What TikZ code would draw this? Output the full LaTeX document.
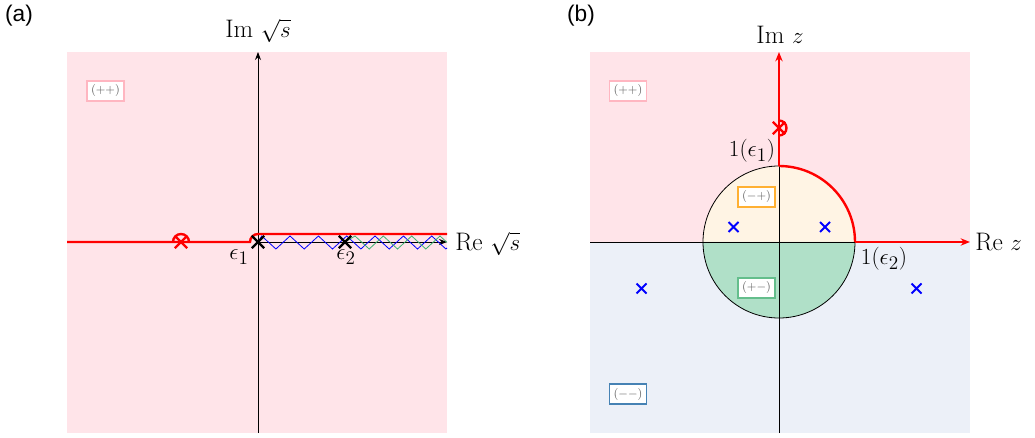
\documentclass[tikz,border=0pt]{standalone}
\usepackage{fontspec}
\newfontfamily\labelsans{Liberation Sans}
\usetikzlibrary{arrows.meta,shapes.misc}
\definecolor{bgpink}{RGB}{255,228,233}
\definecolor{bgblue}{RGB}{236,240,248}
\definecolor{bgyellow}{RGB}{255,244,228}
\definecolor{bggreen}{RGB}{176,224,200}
\definecolor{tagpink}{RGB}{255,182,193}
\definecolor{tagorange}{RGB}{255,176,50}
\definecolor{taggreen}{RGB}{100,190,140}
\definecolor{tagblue}{RGB}{70,130,180}
\definecolor{zzgreen}{RGB}{60,179,113}
\definecolor{tagtext}{RGB}{95,95,95}
\tikzset{
  axis/.style={line width=0.6pt,-{Stealth[length=6pt,width=4.5pt]}},
  redpath/.style={red,line width=1.8pt},
  biglabel/.style={font=\fontsize{19}{22}\selectfont,inner sep=0pt},
  panel/.style={font=\labelsans\fontsize{17}{20}\selectfont,inner sep=0pt},
  tag/.style={draw,fill=white,line width=1pt,font=\fontsize{9}{10}\selectfont,text=tagtext,inner sep=3pt},
  blackx/.style={cross out,draw=black,line width=1.7pt,minimum size=7.5pt,inner sep=0pt},
  redx/.style={cross out,draw=red,line width=1.7pt,minimum size=7.5pt,inner sep=0pt},
  bluex/.style={cross out,draw=blue,line width=1.5pt,minimum size=6pt,inner sep=0pt},
}
\begin{document}
\begin{tikzpicture}[x=0.75pt,y=-0.75pt]
\useasboundingbox (0,0) rectangle (1035,438);
% ---------- panel (a) ----------
\fill[bgpink] (67,52) rectangle (447,433);
\coordinate (aL) at (67,242);
\coordinate (aR) at (447,242);
\coordinate (aB) at (258,433);
\coordinate (aT) at (258,52);
\coordinate (e1) at (258,242);
\coordinate (e2) at (345,242);
\draw[axis] (aB) -- (aT);
\draw[axis] (e1) -- (aR);
% blue zigzag
\draw[blue,line width=0.6pt] (e1) -- (261.7,236) -- (275.9,249) -- (290.0,236) -- (304.2,249)
  -- (318.4,236) -- (332.5,249) -- (346.7,236) -- (360.9,249) -- (375.0,236)
  -- (389.2,249) -- (403.4,236) -- (417.5,249) -- (431.7,236) -- (445.9,249) -- (447,248);
% green zigzag
\draw[zzgreen,line width=0.6pt] (e2) -- (355,236) -- (369.2,249) -- (383.3,236) -- (397.5,249)
  -- (411.7,236) -- (425.8,249) -- (440,236) -- (447,242.4);
% red path
\draw[redpath] (aL) -- (250,242) arc[start angle=180,end angle=270,radius=8] -- (447,234);
\draw[redpath] (173,242) arc[start angle=180,end angle=360,radius=8];
\node[redx] (rxa) at (181,242) {};
\node[blackx] (cx1) at (e1) {};
\node[blackx] (cx2) at (e2) {};
\node[biglabel] (lblIm) at (258,31) {$\mathrm{Im}\ \sqrt{s}$};
\node[biglabel,anchor=west] (lblRe) at (455,244) {$\mathrm{Re}\ \sqrt{s}$};
\node[biglabel] (lble1) at (239,257) {$\epsilon_1$};
\node[biglabel] (lble2) at (346,257) {$\epsilon_2$};
\node[tag,draw=tagpink] (tpa) at (105.5,91) {$(++)$};
\node[panel] (pa) at (19,16) {(a)};
% ---------- panel (b) ----------
\fill[bgpink] (590,52) rectangle (970,242);
\fill[bgblue] (590,242) rectangle (970,433);
\coordinate (O) at (779,242);
\fill[bgyellow] (703,242) arc[start angle=180,end angle=360,radius=76] -- cycle;
\fill[bggreen] (855,242) arc[start angle=0,end angle=180,radius=76] -- cycle;
\draw[line width=0.6pt] (O) circle[radius=76];
\coordinate (bL) at (590,242);
\coordinate (bR) at (970,242);
\coordinate (bB) at (779,433);
\coordinate (bT) at (779,52);
\coordinate (c1) at (779,166);
\coordinate (c2) at (855,242);
\draw[line width=0.6pt] (bL) -- (c2);
\draw[line width=0.6pt] (bB) -- (c1);
\draw[redpath,-{Stealth[length=7pt,width=5.5pt]}] (c2) -- (bR);
\draw[redpath,-{Stealth[length=7pt,width=5.5pt]}] (c1) -- (bT);
\draw[redpath] (c2) arc[start angle=0,end angle=-90,radius=76];
\draw[redpath] (779,120.5) arc[start angle=270,end angle=450,radius=7.5];
\node[redx] (rxb) at (779,128) {};
\node[bluex] (bx1) at (733.5,227) {};
\node[bluex] (bx2) at (825,227) {};
\node[bluex] (bx3) at (641.5,288.5) {};
\node[bluex] (bx4) at (916.5,288.5) {};
\node[biglabel] (lblImz) at (780,35) {$\mathrm{Im}\ z$};
\node[biglabel,anchor=west] (lblRez) at (975,242) {$\mathrm{Re}\ z$};
\node[biglabel] (lblo1) at (752,151) {$1(\epsilon_1)$};
\node[biglabel] (lblo2) at (884,259) {$1(\epsilon_2)$};
\node[tag,draw=tagpink] (tpb) at (628,91) {$(++)$};
\node[tag,draw=tagorange] (tmp) at (756.5,197) {$(-+)$};
\node[tag,draw=taggreen] (tpm) at (756.5,288) {$(+-)$};
\node[tag,draw=tagblue] (tmm) at (628,394) {$(--)$};
\node[panel] (pb) at (581,16) {(b)};
\end{tikzpicture}
\end{document}
